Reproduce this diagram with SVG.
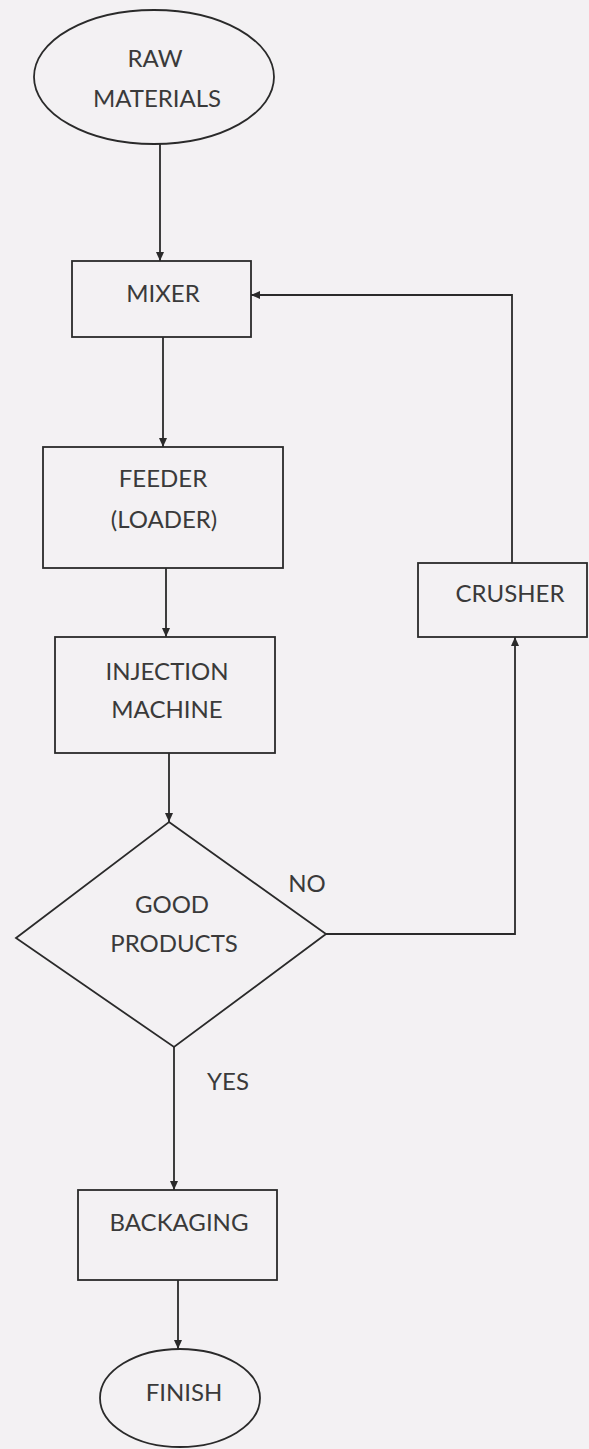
<svg xmlns="http://www.w3.org/2000/svg" width="589" height="1449" viewBox="0 0 589 1449">
<defs>
<marker id="arr" markerWidth="10" markerHeight="10" refX="9" refY="5" orient="auto" markerUnits="userSpaceOnUse">
<path d="M0,1 L9,5 L0,9 Z" fill="#2a2a2a"/>
</marker>
<style>
.shape{fill:none;stroke:#2a2a2a;stroke-width:1.8}
.lbl{font-family:Lato,"Open Sans","Liberation Sans",sans-serif;font-size:24px;fill:#3a3a3a;text-anchor:middle;dominant-baseline:central}
.conn{fill:none;stroke:#2a2a2a;stroke-width:1.8}
</style>
</defs>
<rect width="589" height="1449" fill="#f3f1f3"/>
<g id="connectors">
<path class="conn" d="M160,143 L160,261" marker-end="url(#arr)"/>
<path class="conn" d="M163,337 L163,447" marker-end="url(#arr)"/>
<path class="conn" d="M166,568 L166,637" marker-end="url(#arr)"/>
<path class="conn" d="M169,753 L169,822" marker-end="url(#arr)"/>
<path class="conn" d="M174,1047 L174,1190" marker-end="url(#arr)"/>
<path class="conn" d="M178,1280 L178,1349" marker-end="url(#arr)"/>
<path class="conn" d="M326,934 L515,934 L515,637" marker-end="url(#arr)"/>
<path class="conn" d="M512,563 L512,295 L251,295" marker-end="url(#arr)"/>
</g>
<g id="raw">
<ellipse class="shape" cx="154" cy="77" rx="120" ry="67"/>
<text class="lbl" x="155" y="57">RAW</text>
<text class="lbl" x="157" y="97">MATERIALS</text>
</g>
<g id="mixer">
<rect class="shape" x="72" y="261" width="179" height="76"/>
<text class="lbl" x="163" y="292">MIXER</text>
</g>
<g id="feeder">
<rect class="shape" x="43" y="447" width="240" height="121"/>
<text class="lbl" x="163" y="477">FEEDER</text>
<text class="lbl" x="164" y="518">(LOADER)</text>
</g>
<g id="injection">
<rect class="shape" x="55" y="637" width="220" height="116"/>
<text class="lbl" x="167" y="670">INJECTION</text>
<text class="lbl" x="167" y="708">MACHINE</text>
</g>
<g id="decision">
<polygon class="shape" points="169,822 326,934 174,1047 16,938"/>
<text class="lbl" x="172" y="903">GOOD</text>
<text class="lbl" x="174" y="942">PRODUCTS</text>
<text class="lbl" x="307" y="882">NO</text>
<text class="lbl" x="228" y="1080">YES</text>
</g>
<g id="crusher">
<rect class="shape" x="418" y="563" width="169" height="74"/>
<text class="lbl" x="510" y="592">CRUSHER</text>
</g>
<g id="packaging">
<rect class="shape" x="78" y="1190" width="199" height="90"/>
<text class="lbl" x="179" y="1221">BACKAGING</text>
</g>
<g id="finish">
<ellipse class="shape" cx="180" cy="1398" rx="80" ry="49"/>
<text class="lbl" x="184" y="1391">FINISH</text>
</g>
</svg>
